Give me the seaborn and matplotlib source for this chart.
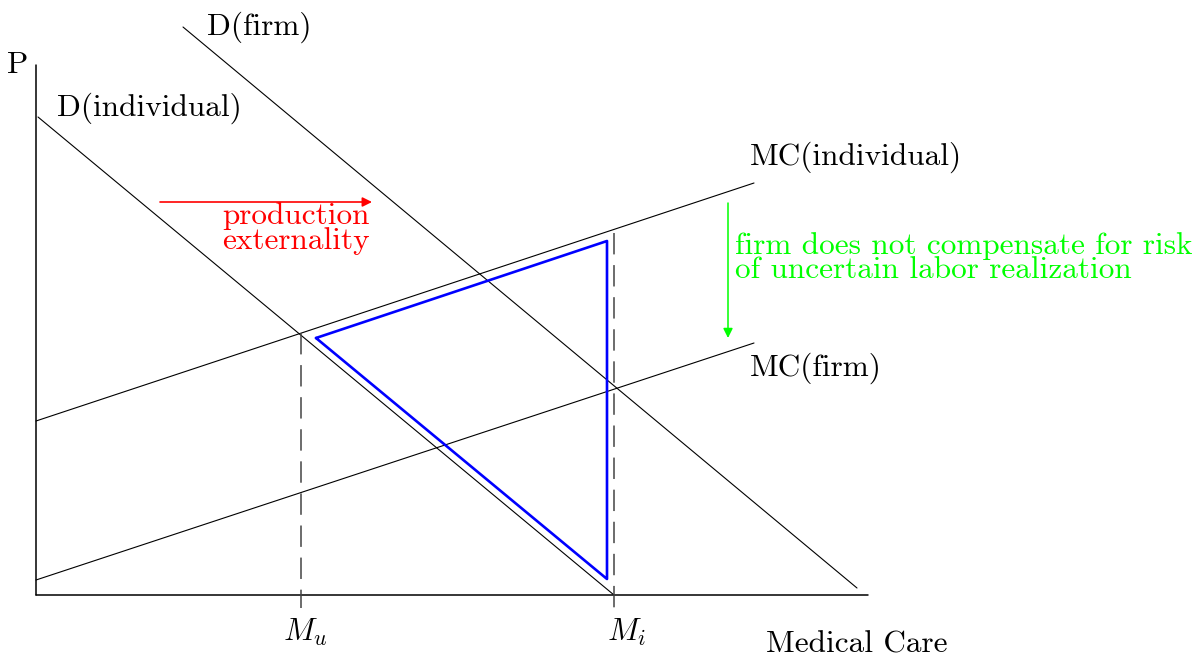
import numpy as np
import pandas as pd
import matplotlib
matplotlib.use("Agg")
import matplotlib.pyplot as plt
import seaborn as sns

sns.set_theme(style="white")
plt.rcParams["font.family"] = ["cmr10", "DejaVu Serif"]
plt.rcParams["mathtext.fontset"] = "cm"
plt.rcParams["axes.formatter.use_mathtext"] = True
plt.rcParams["text.color"] = "black"

# curve endpoints (quantity, price), origin at the corner of the axes
curve_names = ["D(individual)", "D(firm)", "MC(individual)", "MC(firm)"]
curve_x = [[2, 578], [147, 821], [0, 718], [0, 718]]
curve_y = [[478, 0], [568, 7], [174, 412], [15, 252]]

# quantities on the axis
m_u, m_i = 265, 578
m_u_top, m_i_top = 262, 362

# deadweight-loss triangle
tri_x = [280, 571, 571, 280]
tri_y = [257, 354, 16, 257]

x_end, y_end = 832, 530

rows = []
for name, xs, ys in zip(curve_names, curve_x, curve_y):
    for xv, yv in zip(xs, ys):
        rows.append({"curve": name, "q": xv, "p": yv})
curves = pd.DataFrame(rows)

fig = plt.figure(figsize=(11.98, 6.57), dpi=100)
ax = fig.add_axes([0, 0, 1, 1])

# axes
ax.plot([0, 0], [0, y_end], color="black", lw=1.1)
ax.plot([0, x_end], [0, 0], color="black", lw=1.1)

sns.lineplot(data=curves, x="q", y="p", units="curve", estimator=None,
             sort=False, color="black", lw=0.8, ax=ax, legend=False)

# dashed guides
guides = pd.DataFrame({"q": [m_u, m_u, m_i, m_i],
                       "p": [m_u_top, -13, m_i_top, -13],
                       "g": ["u", "u", "i", "i"]})
sns.lineplot(data=guides, x="q", y="p", units="g", estimator=None, sort=False,
             color="#444444", lw=1.1, ax=ax, legend=False)
for line in ax.lines:
    xd = np.asarray(line.get_xdata())
    if len(xd) == 2 and xd[0] == xd[1] and xd[0] in (m_u, m_i):
        line.set_dashes([14, 7])

tri = pd.DataFrame({"q": tri_x, "p": tri_y})
sns.lineplot(data=tri, x="q", y="p", sort=False, estimator=None,
             color="#0000ff", lw=1.9, ax=ax)

# arrows
ax.annotate("", xy=(336, 393), xytext=(124, 393),
            arrowprops=dict(arrowstyle="-|>", color="red", lw=1.2,
                            mutation_scale=14, shrinkA=0, shrinkB=0))
ax.annotate("", xy=(692, 257), xytext=(692, 392),
            arrowprops=dict(arrowstyle="-|>", color="#00ff00", lw=1.1,
                            mutation_scale=14, shrinkA=0, shrinkB=0))

fs = 22.5
ax.text(-18, 530, "P", fontsize=fs, ha="center", va="center")
ax.text(171, 568, "D(firm)", fontsize=fs, ha="left", va="center")
ax.text(21, 487, "D(individual)", fontsize=fs, ha="left", va="center")
ax.text(714, 438, "MC(individual)", fontsize=fs, ha="left", va="center")
ax.text(714, 227, "MC(firm)", fontsize=fs, ha="left", va="center")
ax.text(m_u + 4, -37, r"$M_u$", fontsize=fs, ha="center", va="center")
ax.text(m_i + 12, -37, r"$M_i$", fontsize=fs, ha="center", va="center")
ax.text(730, -50, "Medical Care", fontsize=fs, ha="left", va="center")

ax.text(186, 379, "production", fontsize=fs, color="red", ha="left", va="center")
ax.text(186, 354, "externality", fontsize=fs, color="red", ha="left", va="center")
ax.text(699, 349, "firm does not compensate for risk", fontsize=fs,
        color="#00ff00", ha="left", va="center")
ax.text(699, 325, "of uncertain labor realization", fontsize=fs,
        color="#00ff00", ha="left", va="center")

ax.set_xlim(-36, 1162)
ax.set_ylim(-62, 595)
ax.set_axis_off()

fig.savefig("out.png", dpi=100)
